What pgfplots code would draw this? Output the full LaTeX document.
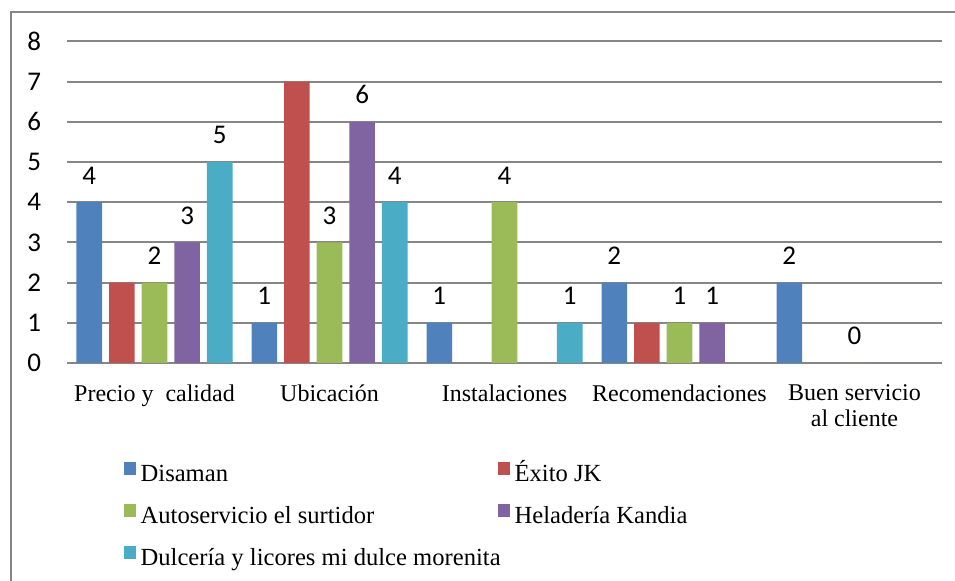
\documentclass[border=0pt]{standalone}
\usepackage{fontspec}
\setmainfont{Liberation Serif}
\newfontfamily\calibri{Carlito}
\usepackage{pgfplots}
\pgfplotsset{compat=1.18}

\definecolor{cDis}{HTML}{4F81BD}
\definecolor{cExi}{HTML}{C0504D}
\definecolor{cAut}{HTML}{9BBB59}
\definecolor{cHel}{HTML}{8064A2}
\definecolor{cDul}{HTML}{4BACC6}
\definecolor{gridgray}{HTML}{868686}

\begin{document}
\begin{tikzpicture}
\useasboundingbox (-33.5pt,-109pt) rectangle (444pt,181.5pt);
% outer chart frame (right and bottom edges lie outside the picture)
\draw[gridgray, line width=1pt] (-28pt,-130pt) -- (-28pt,175.5pt) -- (470pt,175.5pt);
\begin{axis}[
    at={(0,0)}, anchor=south west,
    scale only axis,
    width=437.5pt, height=160.8pt,
    ybar=3.5pt, bar width=12.8pt,
    xmin=-0.5, xmax=4.5,
    ymin=0, ymax=8,
    xtick={0,1,2,3,4},
    xticklabels={Precio y~ calidad, Ubicación, Instalaciones, Recomendaciones, {Buen servicio\\al cliente}},
    ytick={0,1,...,8},
    /pgf/number format/assume math mode=true,
    xticklabel style={align=center, anchor=north, inner sep=0pt, yshift=-10.7pt,
        font=\fontsize{12}{13}\selectfont},
    yticklabel style={anchor=east, inner sep=0pt, xshift=-12.8pt,
        font=\calibri\fontsize{13.5}{15}\selectfont},
    axis x line*=bottom, axis y line*=left,
    x axis line style={-, gridgray, line width=1pt},
    y axis line style={draw=none},
    major tick length=0pt,
    tick style={draw=none},
    ymajorgrids,
    major grid style={gridgray, line width=1pt},
    clip=false,
    every node near coord/.append style={font=\calibri\fontsize{13.5}{15}\selectfont,
        anchor=south, inner sep=0pt, yshift=8.8pt, text=black},
    legend columns=2,
    legend cell align=left,
    legend image code/.code={\fill[#1] (0pt,0.5pt) rectangle (6pt,6.8pt);},
    legend style={at={(0.0651,-0.3078)}, anchor=north west, draw=none, fill=none,
        inner sep=0pt, outer sep=0pt, column sep=0pt, row sep=9pt,
        font=\fontsize{12.3}{14}\selectfont,
        nodes={inner xsep=2.35pt, inner ysep=0pt, text height=8pt, text depth=2.5pt}},
]
\addplot[fill=cDis, draw=none, nodes near coords] coordinates {(0,4) (1,1) (2,1) (3,2) (4,2)};
\addlegendentry{\makebox[176.3pt][l]{Disaman}}
\addplot[fill=cExi, draw=none] coordinates {(0,2) (1,7) (3,1)};
\addlegendentry{Éxito JK}
\addplot[fill=cAut, draw=none, nodes near coords] coordinates {(0,2) (1,3) (2,4) (3,1) (4,0)};
\addlegendentry{\makebox[176.3pt][l]{Autoservicio el surtidor}}
\addplot[fill=cHel, draw=none, nodes near coords] coordinates {(0,3) (1,6) (3,1)};
\addlegendentry{Heladería Kandia}
\addplot[fill=cDul, draw=none, nodes near coords] coordinates {(0,5) (1,4) (2,1)};
\addlegendentry{\makebox[176.3pt][l]{Dulcería y licores mi dulce morenita}}
\end{axis}
\end{tikzpicture}
\end{document}
